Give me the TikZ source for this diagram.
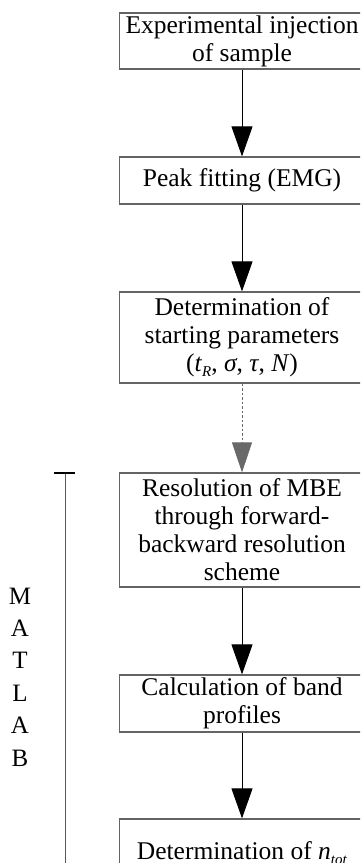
\documentclass[tikz,border=0pt]{standalone}
\usepackage{fontspec}
\setmainfont{Liberation Serif}
\usetikzlibrary{arrows.meta}
\definecolor{framegray}{RGB}{100,100,100}
\definecolor{dashgray}{RGB}{105,105,105}
\definecolor{bargray}{RGB}{90,90,90}
% lowered italic subscript
\newcommand{\lowsub}[1]{\raisebox{-5pt}{\fontsize{15}{15}\selectfont\textit{#1}}}
\begin{document}
\begin{tikzpicture}[x=1pt,y=-1pt,
  stepbox/.style={draw=framegray,line width=1.2pt,minimum width=245pt,inner sep=0pt,
    align=center,font=\fontsize{25.5}{28}\selectfont},
  flow/.style={line width=0.9pt,-{Triangle[length=30pt,width=21pt]}},
  dashflow/.style={draw=dashgray,line width=0.8pt,dash pattern=on 2.5pt off 2pt,
    -{Triangle[length=30pt,width=20pt,fill=dashgray,color=dashgray]}},
  sidelabel/.style={align=center,inner sep=0pt,font=\fontsize{25}{32.4}\selectfont},
]
\useasboundingbox (0,0) rectangle (360,863);
\clip (0,0) rectangle (360,863);

% process steps
\node[stepbox,minimum height=56pt] (inj) at (242,41) {Experimental injection\\of sample};
\node[stepbox,minimum height=47pt] (fit) at (242,180.5) {Peak fitting (EMG)};
\node[stepbox,minimum height=91pt] (par) at (242,337.5)
  {Determination of\\starting parameters\\(\textit{t}\lowsub{R}, \textit{σ}, \textit{τ}, \textit{N})};
\node[stepbox,minimum height=114pt] (mbe) at (242,530)
  {Resolution of MBE\\through forward-\\backward resolution\\scheme};
\node[stepbox,minimum height=57pt] (band) at (242,703.5) {Calculation of band\\profiles};
\node[stepbox,minimum height=69pt] (ntot) at (242,853.5)
  {Determination of \textit{n}\lowsub{tot}};

% connectors
\draw[flow] (inj) -- (fit);
\draw[flow] (fit) -- (par);
\draw[dashflow] (par) -- (mbe);
\draw[flow] (mbe) -- (band);
\draw[flow] (band) -- (ntot);

% MATLAB bracket
\coordinate (bartop) at (65,473);
\coordinate (barbot) at (65,863);
\coordinate (tickl) at (54,473);
\coordinate (tickr) at (75,473);
\draw[bargray,line width=0.9pt] (bartop) -- (barbot);
\draw[black,line width=2pt] (tickl) -- (tickr);
\node[sidelabel] (matlab) at (20,677) {M\\A\\T\\L\\A\\B};
\end{tikzpicture}
\end{document}
